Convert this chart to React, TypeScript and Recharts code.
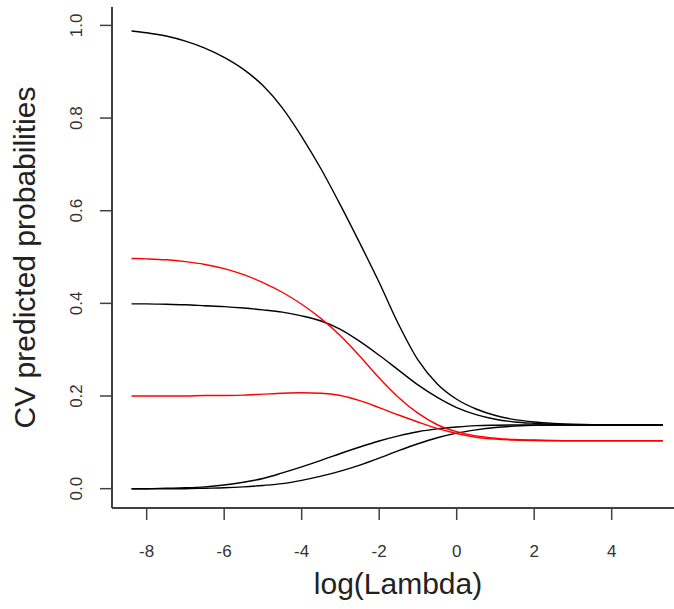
import { LineChart, Line, XAxis, YAxis, Label } from 'recharts'

// log(lambda) grid the curves were read at
const logLambda = [
  -8.39, -8, -7.5, -7, -6.5, -6, -5.5, -5, -4.5, -4, -3.5, -3, -2.5, -2, -1.5, -1,
  -0.5, 0, 0.5, 1, 1.5, 2, 2.5, 3, 3.5, 4, 4.5, 5, 5.32,
]

// black curves
const blackTop = [
  0.988, 0.984, 0.977, 0.966, 0.951, 0.931, 0.905, 0.870, 0.822, 0.760, 0.690, 0.612, 0.530, 0.445, 0.355, 0.278,
  0.226, 0.193, 0.172, 0.158, 0.149, 0.144, 0.141, 0.139, 0.138, 0.1378, 0.1375, 0.1375, 0.1375,
]
const blackMid = [
  0.399, 0.399, 0.398, 0.397, 0.395, 0.393, 0.39, 0.386, 0.381, 0.373, 0.362, 0.344, 0.318, 0.288, 0.256, 0.224,
  0.197, 0.175, 0.16, 0.15, 0.144, 0.141, 0.139, 0.138, 0.1378, 0.1375, 0.1375, 0.1375, 0.1375,
]
const blackRiseEarly = [
  0, 0, 0.001, 0.002, 0.004, 0.008, 0.014, 0.022, 0.034, 0.047, 0.061, 0.076, 0.09, 0.103, 0.114, 0.123,
  0.129, 0.133, 0.136, 0.137, 0.1375, 0.1375, 0.1375, 0.1375, 0.1375, 0.1375, 0.1375, 0.1375, 0.1375,
]
const blackRiseLate = [
  0, 0, 0, 0, 0.001, 0.002, 0.004, 0.007, 0.011, 0.018, 0.027, 0.038, 0.051, 0.066, 0.082, 0.097,
  0.11, 0.12, 0.127, 0.132, 0.135, 0.137, 0.1375, 0.1375, 0.1375, 0.1375, 0.1375, 0.1375, 0.1375,
]

// red curves
const redTop = [
  0.497, 0.496, 0.494, 0.49, 0.484, 0.475, 0.462, 0.445, 0.424, 0.398, 0.367, 0.33, 0.286, 0.239, 0.197, 0.163,
  0.138, 0.123, 0.114, 0.109, 0.106, 0.105, 0.104, 0.1036, 0.1036, 0.1036, 0.1036, 0.1036, 0.1036,
]
const redLow = [
  0.2, 0.2, 0.2, 0.2, 0.201, 0.201, 0.202, 0.204, 0.206, 0.207, 0.206, 0.201, 0.19, 0.175, 0.159, 0.144,
  0.13, 0.119, 0.111, 0.107, 0.105, 0.104, 0.1036, 0.1036, 0.1036, 0.1036, 0.1036, 0.1036, 0.1036,
]

const xTicks = [-8, -6, -4, -2, 0, 2, 4]
const yTicks = [0, 0.2, 0.4, 0.6, 0.8, 1.0]

const rows = logLambda.map((x, i) => ({
  x,
  blackTop: blackTop[i],
  blackMid: blackMid[i],
  blackRiseEarly: blackRiseEarly[i],
  blackRiseLate: blackRiseLate[i],
  redTop: redTop[i],
  redLow: redLow[i],
}))

const font = '"Liberation Sans", Arial, sans-serif'
const boxColor = '#404040'

function YTick({ x, y, payload }: any) {
  return (
    <text
      x={x}
      y={y}
      transform={`rotate(-90 ${x} ${y})`}
      textAnchor="middle"
      fontFamily={font}
      fontSize={17}
      fill="#333"
    >
      {payload.value.toFixed(1)}
    </text>
  )
}

export default function App() {
  const series = [
    { key: 'blackTop', color: '#000' },
    { key: 'blackMid', color: '#000' },
    { key: 'blackRiseEarly', color: '#000' },
    { key: 'blackRiseLate', color: '#000' },
    { key: 'redTop', color: '#ff0000' },
    { key: 'redLow', color: '#ff0000' },
  ]
  return (
    <div style={{ position: 'absolute', left: 0, top: 0, width: 674, height: 609, overflow: 'hidden', background: '#fff' }}>
      <LineChart width={690} height={609} data={rows} margin={{ top: 7, right: 6, bottom: 0, left: 0 }}>
        <XAxis
          xAxisId="top"
          orientation="top"
          dataKey="x"
          type="number"
          domain={[-8.895, 5.866]}
          allowDataOverflow
          height={0}
          tick={false}
          tickLine={false}
          axisLine={{ stroke: boxColor, strokeWidth: 2 }}
        />
        <XAxis
          dataKey="x"
          type="number"
          domain={[-8.895, 5.866]}
          allowDataOverflow
          ticks={xTicks}
          height={101}
          tickSize={12}
          tickMargin={25}
          axisLine={{ stroke: boxColor, strokeWidth: 2 }}
          tickLine={{ stroke: boxColor, strokeWidth: 1.5 }}
          tick={{ fontFamily: font, fontSize: 17, fill: '#333' }}
        >
          <Label
            content={({ viewBox }: any) => (
              <text
                x={viewBox.x + viewBox.width / 2}
                y={594}
                textAnchor="middle"
                fontFamily={font}
                fontSize={30}
                fill="#222"
              >
                log(Lambda)
              </text>
            )}
          />
        </XAxis>
        <YAxis
          type="number"
          domain={[-0.0417, 1.0397]}
          allowDataOverflow
          ticks={yTicks}
          width={112}
          tickSize={12}
          tickMargin={18}
          axisLine={{ stroke: boxColor, strokeWidth: 2 }}
          tickLine={{ stroke: boxColor, strokeWidth: 1.5 }}
          tick={<YTick />}
        >
          <Label
            content={({ viewBox }: any) => {
              const cy = viewBox.y + viewBox.height / 2
              return (
                <text
                  x={35}
                  y={cy}
                  transform={`rotate(-90 35 ${cy})`}
                  textAnchor="middle"
                  fontFamily={font}
                  fontSize={30}
                  fill="#222"
                >
                  CV predicted probabilities
                </text>
              )
            }}
          />
        </YAxis>
        {series.map((s) => (
          <Line
            key={s.key}
            dataKey={s.key}
            type="monotone"
            stroke={s.color}
            strokeWidth={1.4}
            dot={false}
            activeDot={false}
            isAnimationActive={false}
          />
        ))}
      </LineChart>
    </div>
  )
}
